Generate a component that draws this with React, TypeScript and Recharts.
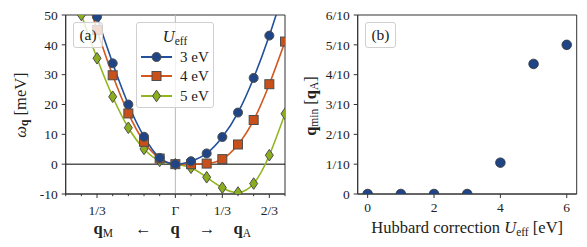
import React from 'react';
import {
  ComposedChart, Line, XAxis, YAxis, ReferenceLine, ReferenceArea, Legend,
  ScatterChart, Scatter,
} from 'recharts';

// ---------- data: panel (a) ----------
const qSteps = [-7, -6, -5, -4, -3, -2, -1, 0, 1, 2, 3, 4, 5, 6, 7];
const omega3eV = [86, 67, 49.4, 33.8, 20.0, 9.2, 2.1, 0, 1.0, 3.6, 9.1, 17.3, 28.9, 43.1, 59.5];
const omega4eV = [80, 62, 45.0, 29.8, 17.0, 7.5, 1.9, 0, 0.0, 0.2, 1.7, 6.6, 14.8, 26.8, 41.1];
const omega5eV = [66, 50.0, 35.5, 22.6, 12.2, 5.1, 1.1, 0, -1.2, -4.4, -7.9, -9.5, -6.5, 3.0, 16.9];
const qMajorTicks = [-5, 0, 3, 6];
const qMajorLabels = ['1/3', 'Γ', '1/3', '2/3'];
const omegaTicks = [-10, 0, 10, 20, 30, 40, 50];
const seriesNames = ['3 eV', '4 eV', '5 eV'];

// ---------- data: panel (b) ----------
const uEff = [0, 1, 2, 3, 4, 5, 6];
const qMin = [0, 0, 0, 0, 0.105, 0.436, 0.5];
const uTicks = [0, 2, 4, 6];
const qMinTicks = [0, 0.1, 0.2, 0.3, 0.4, 0.5, 0.6];
const qMinTickLabels = ['0', '1/10', '2/10', '3/10', '4/10', '5/10', '6/10'];

// ---------- styles ----------
const FONT = 'Liberation Serif, DejaVu Serif, serif';
const AX = '#333333';
const TXT = '#222222';
const BLUE_L = '#23509b';
const BLUE_M = '#1f4586';
const ORANGE_L = '#d2581d';
const ORANGE_M = '#c9501a';
const GREEN_L = '#93b51f';
const GREEN_M = '#8aae1e';
const EDGE = '#4d4d4d';
const TICK_FS = 13.5;
const LABEL_FS = 16.5;
const SUB_FS = 11.5;

const dataA = qSteps.map((q, i) => ({ q, u3: omega3eV[i], u4: omega4eV[i], u5: omega5eV[i] }));
const dataB = uEff.map((u, i) => ({ u, qm: qMin[i] }));

const CircleM = ({ cx, cy, fill }: any) => (
  <circle cx={cx} cy={cy} r={4.5} fill={fill} stroke={EDGE} strokeWidth={1} />
);
const SquareM = ({ cx, cy, fill }: any) => (
  <rect x={cx - 4.5} y={cy - 4.5} width={9} height={9} fill={fill} stroke={EDGE} strokeWidth={1} />
);
const DiamondM = ({ cx, cy, fill }: any) => (
  <polygon
    points={`${cx},${cy - 5.8} ${cx + 4},${cy} ${cx},${cy + 5.8} ${cx - 4},${cy}`}
    fill={fill} stroke={EDGE} strokeWidth={1}
  />
);

const QTick = (props: any) => {
  const { x, y, payload } = props;
  const idx = qMajorTicks.indexOf(payload.value);
  const major = idx >= 0;
  return (
    <g>
      <line x1={x} y1={y} x2={x} y2={y + (major ? 4 : 2.2)} stroke={AX} strokeWidth={1} />
      {major && (
        <text x={x} y={y + 21} textAnchor="middle" fontFamily={FONT} fontSize={TICK_FS} fill={TXT}>
          {qMajorLabels[idx]}
        </text>
      )}
    </g>
  );
};

const QAxisLabel = (props: any) => {
  const vb = props.viewBox || { x: 0, y: 0 };
  const x0 = vb.x;
  const y = vb.y + 40;
  const common = { fontFamily: FONT, fontSize: LABEL_FS, fill: TXT, textAnchor: 'middle' as const };
  return (
    <g>
      <text x={x0 + 37.5} y={y} {...common}>
        <tspan fontWeight="bold">q</tspan>
        <tspan fontSize={SUB_FS} dy={2.5}>M</tspan>
      </text>
      <text x={x0 + 77.5} y={y} {...common}>←</text>
      <text x={x0 + 109.3} y={y} {...common} fontWeight="bold">q</text>
      <text x={x0 + 141.3} y={y} {...common}>→</text>
      <text x={x0 + 176.5} y={y} {...common}>
        <tspan fontWeight="bold">q</tspan>
        <tspan fontSize={SUB_FS} dy={2.5}>A</tspan>
      </text>
    </g>
  );
};

const OmegaLabel = () => (
  <text
    x={22} y={105} transform="rotate(-90 22 105)" textAnchor="middle" dominantBaseline="middle"
    fontFamily={FONT} fontSize={LABEL_FS} fill={TXT}
  >
    <tspan fontStyle="italic">ω</tspan>
    <tspan fontWeight="bold" fontSize={SUB_FS} dy={3}>q</tspan>
    <tspan dy={-3}>{'  [meV]'}</tspan>
  </text>
);

const QMinLabel = () => (
  <text
    x={12} y={106} transform="rotate(-90 12 106)" textAnchor="middle" dominantBaseline="middle"
    fontFamily={FONT} fontSize={LABEL_FS} fill={TXT}
  >
    <tspan fontWeight="bold">q</tspan>
    <tspan fontSize={SUB_FS} dy={3}>min</tspan>
    <tspan dy={-3}>{'  ['}</tspan>
    <tspan fontWeight="bold">q</tspan>
    <tspan fontSize={SUB_FS} dy={3}>A</tspan>
    <tspan dy={-3}>]</tspan>
  </text>
);

const HubbardLabel = (props: any) => {
  const vb = props.viewBox || { x: 0, y: 0, width: 0 };
  return (
    <text x={vb.x + vb.width / 2} y={vb.y + 39} textAnchor="middle" fontFamily={FONT} fontSize={LABEL_FS} fill={TXT}>
      Hubbard correction <tspan fontStyle="italic">U</tspan>
      <tspan fontSize={SUB_FS} dy={3}>eff</tspan>
      <tspan dy={-3}> [eV]</tspan>
    </text>
  );
};

const boxStyle: React.CSSProperties = {
  position: 'absolute',
  background: 'rgba(255,255,255,0.8)',
  border: '1px solid #d0d0d0',
  borderRadius: 3,
  boxSizing: 'border-box',
  fontFamily: FONT,
  color: TXT,
};

const markerFor = (i: number, cx: number, cy: number) => {
  if (i === 0) return <CircleM cx={cx} cy={cy} fill={BLUE_M} />;
  if (i === 1) return <SquareM cx={cx} cy={cy} fill={ORANGE_M} />;
  return <DiamondM cx={cx} cy={cy} fill={GREEN_M} />;
};
const lineColors = [BLUE_L, ORANGE_L, GREEN_L];

const LegendA = () => (
  <div style={{ position: 'relative', width: 300, height: 247 }}>
    <div style={{ ...boxStyle, left: 73, top: 22, width: 30, height: 26, fontSize: LABEL_FS - 1, lineHeight: '24px', textAlign: 'center' }}>
      (a)
    </div>
    <div style={{ ...boxStyle, left: 136, top: 22, width: 78, height: 86 }}>
      <div style={{ position: 'absolute', left: 0, width: 76, top: 5, textAlign: 'center', fontSize: LABEL_FS, lineHeight: '18px' }}>
        <i>U</i><span style={{ fontSize: SUB_FS, position: 'relative', top: 3 }}>eff</span>
      </div>
      {seriesNames.map((n, i) => (
        <div key={n} style={{ position: 'absolute', left: 0, top: 25 + i * 19.3, height: 18, width: 76 }}>
          <svg width={40} height={18} style={{ position: 'absolute', left: 3, top: 0 }}>
            <line x1={1} y1={9} x2={32} y2={9} stroke={lineColors[i]} strokeWidth={2} />
            {markerFor(i, 16.5, 9)}
          </svg>
          <span style={{ position: 'absolute', left: 43, top: 0, fontSize: 15, lineHeight: '18px', whiteSpace: 'nowrap' }}>{n}</span>
        </div>
      ))}
    </div>
  </div>
);

const LegendB = () => (
  <div style={{ position: 'relative', width: 287, height: 247 }}>
    <div style={{ ...boxStyle, background: '#fff', left: 65, top: 22, width: 31, height: 26, fontSize: LABEL_FS - 1, lineHeight: '24px', textAlign: 'center' }}>
      (b)
    </div>
  </div>
);

const tickTextStyle = { fontFamily: FONT, fontSize: TICK_FS, fill: TXT };

export default function App() {
  return (
    <div style={{ position: 'absolute', left: 0, top: 0, width: 587, height: 247, background: '#fff' }}>
      <div style={{ position: 'absolute', left: 0, top: 0 }}>
        <ComposedChart width={300} height={247} data={dataA} margin={{ top: 15, right: 15, bottom: 0, left: 0 }}>
          <XAxis
            dataKey="q" type="number" domain={[-7, 7]} ticks={qSteps} allowDataOverflow interval={0}
            height={53} tickLine={false} tickSize={0} tickMargin={0} tick={<QTick />}
            axisLine={{ stroke: AX, strokeWidth: 1 }} label={<QAxisLabel />}
          />
          <YAxis
            type="number" domain={[-10, 50]} ticks={omegaTicks} allowDataOverflow width={65.7} interval={0}
            tickSize={4} tickMargin={4} tick={tickTextStyle}
            tickLine={{ stroke: AX, strokeWidth: 1 }} axisLine={{ stroke: AX, strokeWidth: 1 }}
            label={<OmegaLabel />}
          />
          <ReferenceLine x={0} stroke="#b8b8b8" strokeWidth={1} />
          <ReferenceLine y={0} stroke="#000" strokeWidth={1} />
          <Line
            dataKey="u5" type="natural" stroke={GREEN_L} strokeWidth={1.6} isAnimationActive={false}
            dot={(p: any) => <DiamondM key={'g' + p.index} cx={p.cx} cy={p.cy} fill={GREEN_M} />}
          />
          <Line
            dataKey="u4" type="natural" stroke={ORANGE_L} strokeWidth={1.6} isAnimationActive={false}
            dot={(p: any) => <SquareM key={'o' + p.index} cx={p.cx} cy={p.cy} fill={ORANGE_M} />}
          />
          <Line
            dataKey="u3" type="natural" stroke={BLUE_L} strokeWidth={1.6} isAnimationActive={false}
            dot={(p: any) => <CircleM key={'b' + p.index} cx={p.cx} cy={p.cy} fill={BLUE_M} />}
          />
          <ReferenceArea x1={-7} x2={7} y1={-10} y2={50} fill="none" fillOpacity={0} stroke={AX} strokeWidth={1} />
          <Legend
            verticalAlign="middle" align="center" layout="horizontal"
            wrapperStyle={{ position: 'absolute', left: 0, top: 0, width: 300, height: 247, pointerEvents: 'none' }}
            content={() => <LegendA />}
          />
        </ComposedChart>
      </div>
      <div style={{ position: 'absolute', left: 300, top: 0 }}>
        <ScatterChart width={287} height={247} margin={{ top: 15, right: 10.3, bottom: 0, left: 0 }}>
          <XAxis
            dataKey="u" type="number" domain={[-0.3, 6.3]} ticks={uTicks} allowDataOverflow interval={0}
            height={53} tickSize={4} tickMargin={4} tick={tickTextStyle}
            tickLine={{ stroke: AX, strokeWidth: 1 }} axisLine={{ stroke: AX, strokeWidth: 1 }}
            label={<HubbardLabel />}
          />
          <YAxis
            dataKey="qm" type="number" domain={[0, 0.6]} ticks={qMinTicks} allowDataOverflow width={57.7} interval={0}
            tickSize={4} tickMargin={4} tick={tickTextStyle}
            tickFormatter={(v: number) => qMinTickLabels[qMinTicks.indexOf(v)] ?? String(v)}
            tickLine={{ stroke: AX, strokeWidth: 1 }} axisLine={{ stroke: AX, strokeWidth: 1 }}
            label={<QMinLabel />}
          />
          <Scatter
            data={dataB} isAnimationActive={false}
            shape={(p: any) => <circle cx={p.cx} cy={p.cy} r={4.8} fill={BLUE_M} stroke="#333" strokeWidth={0.8} />}
          />
          <ReferenceArea x1={-0.3} x2={6.3} y1={0} y2={0.6} fill="none" fillOpacity={0} stroke={AX} strokeWidth={1} />
          <Legend
            verticalAlign="middle" align="center" layout="horizontal"
            wrapperStyle={{ position: 'absolute', left: 0, top: 0, width: 287, height: 247, pointerEvents: 'none' }}
            content={() => <LegendB />}
          />
        </ScatterChart>
      </div>
    </div>
  );
}
